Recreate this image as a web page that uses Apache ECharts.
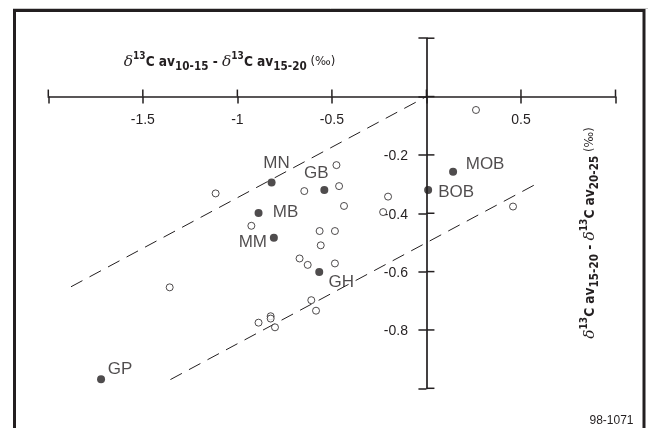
<!DOCTYPE html>
<html>
<head>
<meta charset="utf-8">
<script src="https://cdn.jsdelivr.net/npm/echarts@6/dist/echarts.min.js"></script>
<style>
  html, body { margin: 0; padding: 0; background: #fff; }
  #chart { width: 648px; height: 428px; }
</style>
</head>
<body>
<div id="chart"></div>
<script>
// Tick positions and the labels shown on the two crossing axes
const xTicks = [-2, -1.5, -1, -0.5, 0, 0.5, 1];
const yTicks = [0.2, 0, -0.2, -0.4, -0.6, -0.8, -1];
const xTickLabels = ['-1.5', '-1', '-0.5', '0.5'];
const yTickLabels = ['-0.2', '-0.4', '-0.6', '-0.8'];

// Unlabelled samples (open circles)
const openX = [-1.115, -0.476, -0.646, -0.462, -0.203, -0.229, -0.436, -0.926, -0.565, -0.484,
               -0.559, -0.671, -0.628, -0.484, -1.358, -0.609, -0.584, -0.824, -0.824, -0.801,
               -0.888, 0.458, 0.262];
const openY = [-0.332, -0.235, -0.324, -0.307, -0.343, -0.396, -0.375, -0.443, -0.461, -0.461,
               -0.510, -0.555, -0.577, -0.572, -0.654, -0.698, -0.734, -0.753, -0.761, -0.791,
               -0.775, -0.377, -0.046];

// Named sites (filled circles)
const siteNames = ['MN', 'GB', 'MB', 'MM', 'GH', 'GP', 'MOB', 'BOB'];
const siteX = [-0.819, -0.540, -0.888, -0.807, -0.567, -1.721, 0.141, 0.009];
const siteY = [-0.295, -0.320, -0.399, -0.484, -0.601, -0.969, -0.258, -0.320];

// Dashed envelope lines
const upperLineX = [-1.88, 0];
const upperLineY = [-0.652, 0];
const lowerLineX = [-1.354, 0.58];
const lowerLineY = [-0.970, -0.300];

const INK = '#231f20';
const TICK_FONT = "'Liberation Sans', Arial, sans-serif";
const TITLE_FONT = "'Liberation Sans Narrow', 'DejaVu Sans Condensed', 'Liberation Sans', Arial, sans-serif";
const DELTA_FONT = "'DejaVu Serif', 'Liberation Serif', serif";

// Where each site name sits relative to its point (label centre offset, px)
const labelOffset = {
  MN: [5, -19], GB: [-8, -17], MB: [27, -1], MM: [-21, 5],
  GH: [22, 10], GP: [19, -10], MOB: [32, -8], BOB: [28, 2]
};

const fmt = v => String(Number(v.toFixed(3)));

const richTitle = {
  d: { fontFamily: DELTA_FONT, fontStyle: 'italic', fontSize: 15.5, fill: INK, lineHeight: 22 },
  sup: { fontFamily: TITLE_FONT, fontWeight: 'bold', fontSize: 10, fill: INK, lineHeight: 12, verticalAlign: 'top' },
  b: { fontFamily: TITLE_FONT, fontWeight: 'bold', fontSize: 13.6, fill: INK, lineHeight: 22 },
  sub: { fontFamily: TITLE_FONT, fontWeight: 'bold', fontSize: 11.6, fill: INK, lineHeight: 13, verticalAlign: 'bottom' },
  n: { fontFamily: TITLE_FONT, fontSize: 13, fill: INK, lineHeight: 22 }
};
const titleText = (a, b) =>
  '{d|\u03B4}{sup|13}{b|C av}{sub|' + a + '}{b| - }{d|\u03B4}{sup|13}{b|C av}{sub|' + b + '}{n| (\u2030)}';

// Inner halves of the crossing ticks plus the tick labels, placed through the axis scales
function axisDecor(params, api) {
  const children = [];
  const line = { stroke: INK, lineWidth: 1.5 };
  const font = { fontSize: 14, fontFamily: TICK_FONT, fill: INK };
  xTicks.forEach(t => {
    const p = api.coord([t, 0]);
    children.push({ type: 'line', shape: { x1: p[0], y1: p[1], x2: p[0], y2: p[1] - 7 }, style: line });
    if (xTickLabels.indexOf(fmt(t)) >= 0) {
      children.push({
        type: 'text', x: p[0], y: p[1] + 24,
        style: Object.assign({ text: fmt(t), align: 'center', verticalAlign: 'middle' }, font)
      });
    }
  });
  yTicks.forEach(t => {
    const p = api.coord([0, t]);
    children.push({ type: 'line', shape: { x1: p[0], y1: p[1], x2: p[0] + 8, y2: p[1] }, style: line });
    if (yTickLabels.indexOf(fmt(t)) >= 0) {
      children.push({
        type: 'text', x: p[0] - 18.5, y: p[1] + 1.5,
        style: Object.assign({ text: fmt(t), align: 'right', verticalAlign: 'middle' }, font)
      });
    }
  });
  return { type: 'group', children };
}

const chart = echarts.init(document.getElementById('chart'), null, { renderer: 'canvas' });

chart.setOption({
  animation: false,
  backgroundColor: '#ffffff',
  grid: { left: 48.3, right: 32.5, top: 38.2, bottom: 39.7, containLabel: false, outerBoundsMode: 'none' },
  xAxis: {
    type: 'value', min: -2, max: 1, interval: 0.5, position: 'bottom',
    axisLine: { onZero: true, lineStyle: { color: INK, width: 1.7 } },
    axisTick: { show: true, length: 7, lineStyle: { color: INK, width: 1.5 } },
    splitLine: { show: false },
    axisLabel: { show: false }
  },
  yAxis: {
    type: 'value', min: -1, max: 0.2, interval: 0.2, position: 'left',
    axisLine: { onZero: true, lineStyle: { color: INK, width: 1.7 } },
    axisTick: { show: true, length: 8, lineStyle: { color: INK, width: 1.5 } },
    splitLine: { show: false },
    axisLabel: { show: false }
  },
  series: [
    {
      type: 'custom', silent: true, renderItem: axisDecor,
      data: [[0, 0]], z: 1
    },
    {
      type: 'line', silent: true, showSymbol: false, symbol: 'none',
      data: upperLineX.map((x, i) => [x, upperLineY[i]]),
      lineStyle: { color: INK, width: 1, type: [13, 8] }, z: 2
    },
    {
      type: 'line', silent: true, showSymbol: false, symbol: 'none',
      data: lowerLineX.map((x, i) => [x, lowerLineY[i]]),
      lineStyle: { color: INK, width: 1, type: [13, 8] }, z: 2
    },
    {
      type: 'scatter', silent: true, symbol: 'circle', symbolSize: 7,
      data: openX.map((x, i) => [x, openY[i]]),
      itemStyle: { color: '#ffffff', borderColor: INK, borderWidth: 1 }, z: 3
    },
    {
      type: 'scatter', silent: true, symbol: 'circle', symbolSize: 8,
      data: siteNames.map((n, i) => ({
        name: n, value: [siteX[i], siteY[i]],
        label: { offset: labelOffset[n] }
      })),
      itemStyle: { color: INK },
      label: {
        show: true, position: 'inside', formatter: '{b}',
        fontSize: 17, fontFamily: "'Liberation Sans', Arial, sans-serif",
        color: INK, align: 'center', verticalAlign: 'middle'
      },
      z: 4
    }
  ],
  graphic: [
    {
      type: 'rect', silent: true, z: 10,
      shape: { x: 14.5, y: 10.5, width: 629.5, height: 440 },
      style: { fill: 'none', stroke: INK, lineWidth: 3 }
    },
    {
      type: 'line', silent: true, z: 10,
      shape: { x1: 13, y1: 8.5, x2: 648, y2: 8.5 },
      style: { stroke: '#c8c8c8', lineWidth: 1 }
    },
    {
      type: 'text', silent: true, z: 10,
      x: 229.5, y: 62,
      style: {
        text: titleText('10-15', '15-20'), rich: richTitle,
        x: 0, y: 0, align: 'center', verticalAlign: 'middle'
      }
    },
    {
      type: 'text', silent: true, z: 10,
      x: 590, y: 233, rotation: Math.PI / 2,
      style: {
        text: titleText('15-20', '20-25'), rich: richTitle,
        x: 0, y: 0, align: 'center', verticalAlign: 'middle'
      }
    },
    {
      type: 'text', silent: true, z: 10,
      x: 611.5, y: 421,
      style: {
        text: '98-1071', fill: INK, fontSize: 12,
        fontFamily: "'Liberation Sans', Arial, sans-serif",
        x: 0, y: 0, align: 'center', verticalAlign: 'middle'
      }
    }
  ]
});
</script>
</body>
</html>
